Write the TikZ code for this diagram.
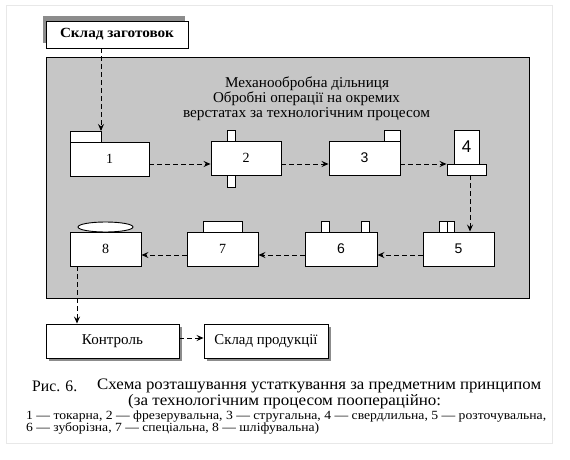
\documentclass[tikz,border=0pt]{standalone}
\usepackage{fontspec}
\usepackage{graphicx}
\setmainfont{Liberation Serif}
\setsansfont{Liberation Sans}
\usetikzlibrary{arrows.meta}
\definecolor{areagray}{RGB}{198,198,198}
\definecolor{shadowgray}{RGB}{140,140,140}
\definecolor{framegray}{RGB}{232,232,232}
\newcommand\fitto[2]{\resizebox{#1}{\height}{#2}}
\begin{document}
\begin{tikzpicture}[x=1pt,y=-1pt,
  box/.style={draw=black,fill=white,line width=0.9pt,rectangle,inner sep=0pt,font=\fontsize{14}{16}\selectfont},
  tab/.style={draw=black,fill=white,line width=0.9pt},
  flow/.style={draw=black,line width=0.9pt,dash pattern=on 5pt off 3pt,-{Stealth[length=7pt,width=6pt,inset=2.5pt]}},
  titletext/.style={inner sep=0pt,font=\fontsize{15}{16}\selectfont},
  capbig/.style={anchor=west,inner sep=0pt,font=\fontsize{16}{17}\selectfont},
  capsmall/.style={anchor=west,inner sep=0pt,font=\fontsize{12.5}{13}\selectfont}]
\useasboundingbox (0,0) rectangle (570,460);
\draw[framegray,line width=0.8pt] (6,5) rectangle (552,443);
% main area
\node[draw=black,fill=areagray,line width=0.9pt,minimum width=483pt,minimum height=241pt,inner sep=0pt] (area) at (287.5,177.5) {};
\node[titletext] (title1) at (307,84) {\fitto{164pt}{Механообробна дільниця}};
\node[titletext] (title2) at (306.5,99) {\fitto{187pt}{Обробні операції на окремих}};
\node[titletext] (title3) at (306.5,114) {\fitto{247pt}{верстатах за технологічним процесом}};
% top store
\fill[shadowgray] (43,16) rectangle (185,43);
\node[box,minimum width=142pt,minimum height=27pt,font=\bfseries\fontsize{14}{16}\selectfont] (sz) at (117,34.5) {\fitto{114pt}{Склад заготовок}};
% machines row 1
\draw[tab] (70,131) rectangle (101,142);
\node[box,minimum width=79pt,minimum height=34pt] (m1) at (109.5,159) {1};
\coordinate (t1ne) at (101,131);
\draw[tab] (227,130) rectangle (235,141);
\draw[tab] (227,175) rectangle (235,187);
\node[box,minimum width=70pt,minimum height=34pt] (m2) at (246,158) {2};
\draw[tab] (384,130) rectangle (400,141);
\node[box,minimum width=71pt,minimum height=34pt,font=\sffamily\fontsize{14}{16}\selectfont] (m3) at (364.5,158) {3};
\node[box,minimum width=25pt,minimum height=34pt,font=\sffamily\fontsize{17}{18}\selectfont] (m4) at (466.5,147) {4};
\node[box,minimum width=39pt,minimum height=11pt] (m4b) at (466.5,169.5) {};
% machines row 2
\draw[tab] (439,221) rectangle (447,232);
\draw[tab] (447,221) rectangle (454,232);
\node[box,minimum width=71pt,minimum height=34pt,font=\sffamily\fontsize{14}{16}\selectfont] (m5) at (458.5,249) {5};
\draw[tab] (321,221) rectangle (329,232);
\draw[tab] (361,221) rectangle (369,232);
\node[box,minimum width=72pt,minimum height=34pt,font=\sffamily\fontsize{14}{16}\selectfont] (m6) at (341,249) {6};
\draw[tab] (203,221) rectangle (242,232);
\node[box,minimum width=71pt,minimum height=34pt] (m7) at (222.5,249) {7};
\draw[tab] (105.5,227) ellipse [x radius=27.5pt,y radius=5pt];
\node[box,minimum width=71pt,minimum height=34pt] (m8) at (105.5,249) {8};
% bottom boxes
\fill[shadowgray] (49,327) rectangle (182,361);
\node[box,minimum width=133pt,minimum height=34pt,font=\fontsize{15}{16}\selectfont] (kn) at (112.5,341) {\fitto{61pt}{Контроль}};
\fill[shadowgray] (207,327) rectangle (331,361);
\node[box,minimum width=124pt,minimum height=34pt,font=\fontsize{15}{16}\selectfont] (sp) at (266,341) {\fitto{103pt}{Склад продукції}};
% rows
\coordinate (r1) at (0,164);
\coordinate (r2) at (0,255);
\coordinate (r3) at (0,338);
\coordinate (c45) at (470,0);
\coordinate (c8) at (77,0);
% connectors
\draw[flow] (sz.south -| t1ne) -- (t1ne);
\draw[flow] (m1.east |- r1) -- (m2.west |- r1);
\draw[flow] (m2.east |- r1) -- (m3.west |- r1);
\draw[flow] (m3.east |- r1) -- (m4b.west |- r1);
\draw[flow] (m4b.south -| c45) -- (m5.north -| c45);
\draw[flow] (m5.west |- r2) -- (m6.east |- r2);
\draw[flow] (m6.west |- r2) -- (m7.east |- r2);
\draw[flow] (m7.west |- r2) -- (m8.east |- r2);
\draw[flow] (m8.south -| c8) -- (kn.north -| c8);
\draw[flow] (kn.east |- r3) -- (sp.west |- r3);
% caption
\node[capbig] (cap0) at (32,386) {\fitto{45pt}{Рис. 6.}};
\node[capbig] (cap1) at (97,386) {\fitto{444pt}{Схема розташування устаткування за предметним принципом}};
\node[capbig] (cap2) at (128,402) {\fitto{313pt}{(за технологічним процесом поопераційно:}};
\node[capsmall] (cap3) at (26,417) {\fitto{520pt}{1 — токарна, 2 — фрезерувальна, 3 — стругальна, 4 — свердлильна, 5 — розточувальна,}};
\node[capsmall] (cap4) at (26,428) {\fitto{293pt}{6 — зуборізна, 7 — спеціальна, 8 — шліфувальна)}};
\end{tikzpicture}
\end{document}
